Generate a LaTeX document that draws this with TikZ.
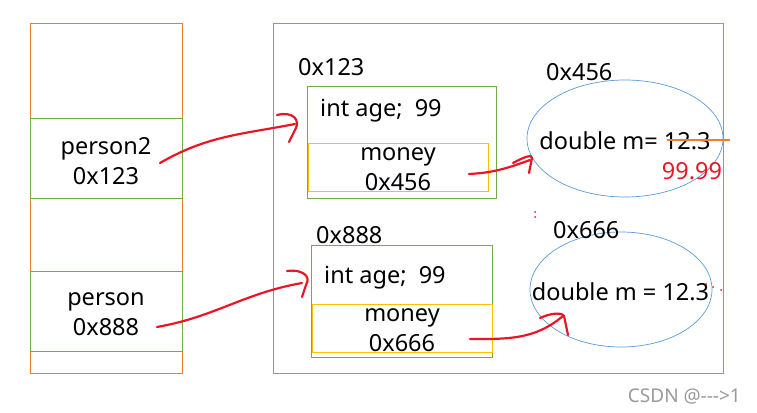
\documentclass[tikz,border=0pt]{standalone}
\usepackage{fontspec}
\setmainfont{Noto Sans}
\usetikzlibrary{calc,positioning,shapes.geometric}
\definecolor{frameorange}{RGB}{237,125,49}
\definecolor{objgreen}{RGB}{112,173,71}
\definecolor{fieldyellow}{RGB}{255,192,0}
\definecolor{cellblue}{RGB}{91,155,213}
\definecolor{penred}{RGB}{234,22,38}

\begin{document}
\begin{tikzpicture}[x=1pt, y=-1pt,
    every node/.style={font=\fontsize{23.5}{30}\selectfont, inner sep=0pt},
    frame/.style={draw=frameorange, line width=0.8pt},
    objbox/.style={draw=objgreen, line width=0.8pt},
    fieldbox/.style={draw=fieldyellow, line width=0.8pt, minimum width=180pt, minimum height=48pt},
    cell/.style={ellipse, draw=cellblue, line width=0.7pt},
    txt/.style={align=center},
    pen/.style={draw=penred, line width=2.2pt, line cap=round, line join=round},
]
\useasboundingbox (0,0) rectangle (757,412);

% Stack and heap areas
\node[frame, minimum width=152pt, minimum height=350pt] (stack) at (106,198) {};
\node[frame, minimum width=450pt, minimum height=350pt] (heap) at (498,198) {};

% Reference variables on the stack
\node[objbox, minimum width=152pt, minimum height=80pt] (p2) at (106,158) {};
\node[txt] (p2text) at (106,161) {person2\\0x123};
\node[objbox, minimum width=152pt, minimum height=80pt] (p1) at (106,311) {};
\node[txt] (p1text) at (106,314) {person\\0x888};

% First object
\node[objbox, minimum width=189pt, minimum height=112pt] (obj1) at (401.5,142) {};
\node[anchor=west] (addr1) at (298,67) {0x123};
\node[anchor=west] (age1) at (320,111) {int age;\ \ 99};
\node[fieldbox] (money1) at (398,167) {};
\node[txt] (money1text) at (398,169) {money\\0x456};

% Second object
\node[objbox, minimum width=181pt, minimum height=112pt] (obj2) at (401.5,301) {};
\node[anchor=west] (addr2) at (316,235) {0x888};
\node[anchor=west] (age2) at (324,278) {int age;\ \ 99};
\node[fieldbox] (money2) at (402,328) {};
\node[txt] (money2text) at (402,330) {money\\0x666};

% The two double values
\node[cell, minimum width=196pt, minimum height=117pt] (m1) at (625,138.5) {};
\node (m1text) at (625,141) {double m= 12.3};
\node[anchor=west] (addr3) at (546,72) {0x456};
\node[text=penred] (new1) at (692,171) {99.99};
\coordinate (cutL) at (667,140);
\coordinate (cutR) at (730,140);
\draw[frameorange, line width=1.8pt] (cutL) -- (cutR);

\node[cell, minimum width=182pt, minimum height=115pt] (m2) at (621,289.5) {};
\node (m2text) at (620.5,292) {double m = 12.3};
\node[anchor=west] (addr4) at (553,230) {0x666};

% Hand drawn pointers
\coordinate (s1) at (160,163);
\coordinate (e1) at (295,124);
\draw[pen] (s1) to[out=30,in=191] (e1);
\draw[pen] ($(e1)+(-18,-9)$) .. controls ($(e1)+(-2,-13)$) and ($(e1)+(6,-4)$) .. ($(e1)+(0,6)$) -- ($(e1)+(-6,18)$);

\coordinate (s2) at (157,327);
\coordinate (e2) at (302,283);
\draw[pen] (s2) to[out=10,in=190] (e2);
\draw[pen] ($(e2)+(-15,-12)$) .. controls ($(e2)+(-2,-14)$) and ($(e2)+(10,-8)$) .. ($(e2)+(4,2)$) -- ($(e2)+(0,14)$);

\coordinate (s3) at (469,174);
\coordinate (e3) at (530,160);
\draw[pen] (s3) to[out=3,in=200] (e3);
\draw[pen] ($(e3)+(-17,3)$) .. controls ($(e3)+(-6,-3)$) and ($(e3)+(2,-6)$) .. ($(e3)+(2,-2)$) -- ($(e3)+(-1,13)$);

\coordinate (s4) at (470,339);
\coordinate (e4) at (563,316);
\draw[pen] (s4) to[out=0,in=220] (e4);
\draw[pen] ($(e4)+(-23,2)$) .. controls ($(e4)+(-10,-4)$) and ($(e4)+(0,-3)$) .. ($(e4)+(1,0)$) -- ($(e4)+(5,19)$);

% stray pen dots
\fill[penred] (535,212) circle (1pt) (535,217) circle (1pt);
\fill[penred] (706,284) circle (1pt) (713,287) circle (1pt) (721,290) circle (1pt);

% watermark
\node[anchor=east, text=black!40, font=\fontsize{19}{21}\selectfont] (mark) at (741,396) {CSDN @-{}-{}-{}>1};
\end{tikzpicture}
\end{document}
